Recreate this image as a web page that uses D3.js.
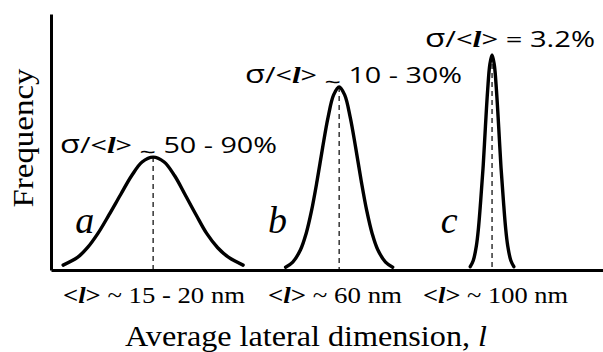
<!DOCTYPE html>
<html>
<head>
<meta charset="utf-8">
<script src="https://cdn.jsdelivr.net/npm/d3@7"></script>
<style>
  body { margin: 0; background: #fff; }
  svg { display: block; }
</style>
</head>
<body>
<div id="chartContainer"></div>
<script>
// Curve samples (x: arbitrary lateral units, y: relative frequency)
const curveA = [[2.2,1.9],[4.8,4.9],[6.6,8.7],[8.5,14.3],[10.5,21.5],[12.6,29.4],[14.6,36.8],[16.5,42.2],[18.5,44.1],
                [20.5,42.2],[22.4,36.8],[24.3,29.4],[26.3,21.5],[28.2,14.3],[30.2,8.7],[32.2,4.9],[34.8,1.9]];
const curveB = [[42.5,1.1],[43.8,3.1],[45.2,7.9],[46.2,14.1],[47.2,23.2],[48.2,34.8],[49.2,47.7],[50.2,59.7],[51.2,68.4],[52.2,71.5],
                [53.2,68.4],[54.2,59.7],[55.2,47.7],[56.2,34.8],[57.2,23.2],[58.2,14.1],[59.2,7.9],[60.6,3.1],[61.9,1.1]];
const curveC = [[75.95,1.3],[76.5,3.7],[77.05,9.3],[77.45,16.6],[77.85,27.3],[78.3,40.9],[78.7,56.0],[79.1,70.2],[79.5,80.3],[79.9,84],
                [80.3,80.3],[80.7,70.2],[81.1,56.0],[81.5,40.9],[81.95,27.3],[82.35,16.6],[82.75,9.3],[83.3,3.7],[83.85,1.3]];
const peaks = [[18.5,44.1],[52.2,71.5],[79.9,84]];

const curveNames = ["a", "b", "c"];
const sigmaRel = ["~", "~", "="];
const sigmaValues = ["50 - 90%", "10 - 30%", "3.2%"];
const meanValues = ["15 - 20 nm", "60 nm", "100 nm"];
const yTitle = "Frequency";
const xTitle = "Average lateral dimension,";

function init() {
    const W = 603, H = 352;
    const margin = { top: 14, right: 0, bottom: 82, left: 51 };

    const svg = d3.select("#chartContainer").append("svg")
        .attr("width", W)
        .attr("height", H);

    const x = d3.scaleLinear().domain([0, 100]).range([margin.left, W - margin.right]);
    const y = d3.scaleLinear().domain([0, 100]).range([H - margin.bottom, margin.top]);

    // Axes: bare lines, no ticks
    svg.append("g")
        .attr("transform", `translate(0, ${y(0)})`)
        .call(d3.axisBottom(x).ticks(0).tickSizeOuter(0))
        .select(".domain").attr("stroke-width", 3);

    svg.append("g")
        .attr("transform", `translate(${x(0)}, 0)`)
        .call(d3.axisLeft(y).ticks(0).tickSizeOuter(0))
        .select(".domain").attr("stroke-width", 3);

    // Dashed lines at the mean of each distribution
    svg.selectAll(".mean-line")
        .data(peaks)
        .enter().append("line")
        .attr("class", "mean-line")
        .attr("x1", d => x(d[0])).attr("x2", d => x(d[0]))
        .attr("y1", d => y(d[1])).attr("y2", y(0))
        .attr("stroke", "#000")
        .attr("stroke-width", 1.2)
        .attr("stroke-dasharray", "5,4");

    // Distribution curves
    const line = d3.line()
        .x(d => x(d[0]))
        .y(d => y(d[1]))
        .curve(d3.curveCatmullRom);

    svg.selectAll(".dist")
        .data([curveA, curveB, curveC])
        .enter().append("path")
        .attr("class", "dist")
        .attr("d", line)
        .attr("fill", "none")
        .attr("stroke", "#000")
        .attr("stroke-width", 3.4)
        .attr("stroke-linecap", "round");

    // Curve letters
    const letterPos = [[4.4, 233], [39.3, 233], [70.6, 233]];
    svg.selectAll(".letter")
        .data(curveNames)
        .enter().append("text")
        .attr("x", (d, i) => x(letterPos[i][0]))
        .attr("y", (d, i) => letterPos[i][1])
        .attr("font-family", "Liberation Serif")
        .attr("font-style", "italic")
        .attr("font-size", 38)
        .text(d => d);

    // sigma / <l> labels
    const sigmaPos = [[60, 153, 217], [245, 83, 217], [425, 47, 170]];
    sigmaValues.forEach((v, i) => {
        const t = svg.append("text")
            .attr("x", sigmaPos[i][0])
            .attr("y", sigmaPos[i][1])
            .attr("font-family", "Open Sans")
            .attr("font-size", 22)
            .attr("textLength", sigmaPos[i][2])
            .attr("lengthAdjust", "spacingAndGlyphs");
        t.append("tspan").attr("font-size", 25).text("σ");
        t.append("tspan").text("/<");
        t.append("tspan").attr("font-family", "Liberation Serif").attr("font-size", 24)
            .attr("font-weight", "bold").attr("font-style", "italic").text("l");
        t.append("tspan").text("> ");
        if (sigmaRel[i] === "~") {
            t.append("tspan").attr("dy", 7).text("~");
            t.append("tspan").attr("dy", -7).text(" " + v);
        } else {
            t.append("tspan").text("= " + v);
        }
    });

    // <l> ~ mean labels under the axis
    const meanPos = [[63, 182], [268, 134], [423, 145]];
    meanValues.forEach((v, i) => {
        const t = svg.append("text")
            .attr("x", meanPos[i][0])
            .attr("y", 303)
            .attr("font-family", "Liberation Serif")
            .attr("font-size", 24)
            .attr("textLength", meanPos[i][1])
            .attr("lengthAdjust", "spacingAndGlyphs");
        t.append("tspan").attr("font-weight", "bold").text("<");
        t.append("tspan").attr("font-weight", "bold").attr("font-style", "italic").text("l");
        t.append("tspan").attr("font-weight", "bold").text(">");
        t.append("tspan").text(" ~ " + v);
    });

    // Axis titles
    const xt = svg.append("text")
        .attr("x", 125)
        .attr("y", 346)
        .attr("font-family", "Liberation Serif")
        .attr("font-size", 30)
        .attr("textLength", 362)
        .attr("lengthAdjust", "spacingAndGlyphs");
    xt.append("tspan").text(xTitle + "   ");
    xt.append("tspan").attr("font-style", "italic").text("l");

    svg.append("text")
        .attr("transform", "translate(33, 138) rotate(-90)")
        .attr("text-anchor", "middle")
        .attr("font-family", "Liberation Serif")
        .attr("font-size", 30)
        .attr("textLength", 139)
        .attr("lengthAdjust", "spacingAndGlyphs")
        .text(yTitle);
}
window.onload = init;
</script>
</body>
</html>
